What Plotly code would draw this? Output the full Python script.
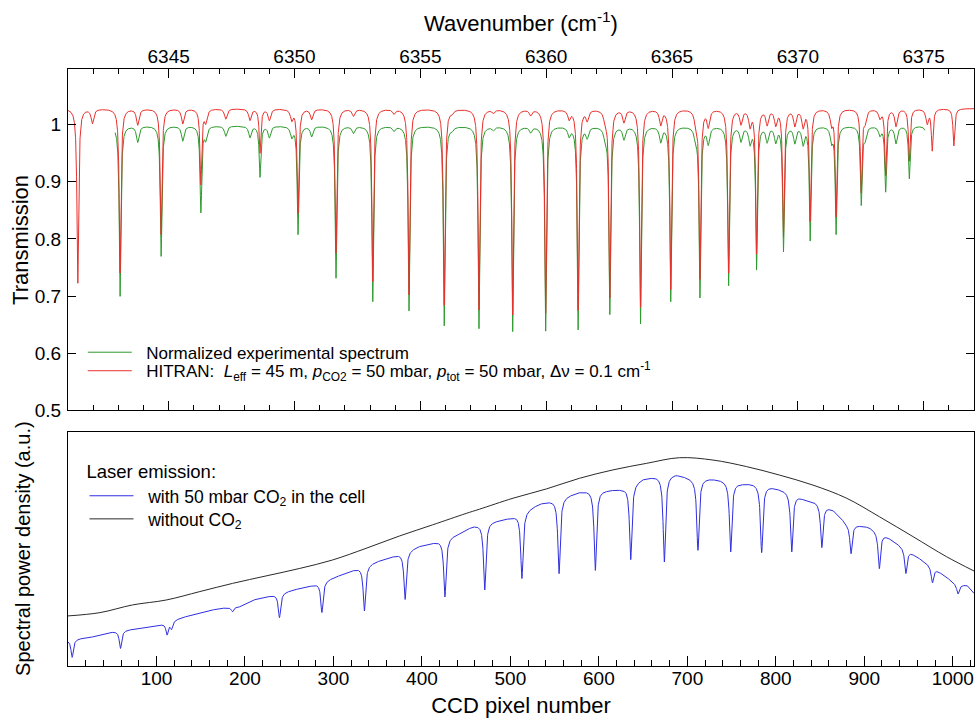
import numpy as np
import plotly.graph_objects as go

# ---------------- top panel: CO2 transmission ----------------
# strong lines: centre (cm-1), minimum of measured (green) and HITRAN (red) curves
strong_wn = [6341.39, 6343.07, 6344.70, 6346.28, 6348.63, 6350.14, 6351.65, 6353.11,
             6354.55, 6355.95, 6357.33, 6358.67, 6359.98, 6361.27, 6362.53, 6363.75,
             6364.95, 6366.11, 6367.25, 6368.36, 6369.43, 6370.49, 6371.52, 6372.52,
             6373.49, 6374.43, 6375.34, 6376.20]
green_min = [None, 0.700, 0.770, 0.848, 0.909, 0.809, 0.732, 0.691,
             0.675, 0.649, 0.644, 0.639, 0.640, 0.643, 0.671, 0.653,
             0.692, 0.701, 0.720, 0.749, 0.780, 0.799, 0.811, 0.862,
             0.884, 0.906, None, None]
red_min = [0.723, 0.741, 0.808, 0.897, 0.951, 0.846, 0.776, 0.726,
           0.703, 0.685, 0.677, 0.668, 0.671, 0.677, 0.700, 0.682,
           0.713, 0.733, 0.742, 0.777, 0.806, 0.833, 0.842, 0.884,
           0.913, 0.937, 0.956, 0.963]
# weak lines: centre (cm-1) and depth
weak_wn = [6341.97, 6343.77, 6345.56, 6346.47, 6347.27, 6348.23, 6349.00, 6349.89,
           6350.68, 6352.34, 6353.95, 6356.25, 6357.90, 6359.38, 6360.91, 6361.63,
           6362.35, 6363.09, 6364.55, 6365.94, 6366.44, 6367.74, 6368.10, 6368.78,
           6369.12, 6369.88, 6370.21, 6371.34, 6372.67, 6373.26, 6373.90, 6375.14]
weak_depth = [0.025, 0.028, 0.026, 0.022, 0.018, 0.020, 0.020, 0.018,
              0.018, 0.012, 0.008, 0.006, 0.006, 0.010, 0.016, 0.018,
              0.020, 0.022, 0.026, 0.020, 0.029, 0.025, 0.028, 0.026,
              0.026, 0.028, 0.030, 0.025, 0.020, 0.015, 0.030, 0.025]
green_level = 0.998
red_level = 1.028
green_span = [6342.87, 6375.05]

# ---------------- bottom panel: laser emission on the CCD ----------------
black_px = [0, 36, 73, 111, 149, 186, 224, 262, 299, 337, 375, 412, 450, 465, 503,
            541, 578, 616, 654, 691, 729, 767, 804, 842, 880, 917, 955, 993, 1024]
black_val = [0.214, 0.228, 0.261, 0.282, 0.318, 0.353, 0.385, 0.417, 0.453, 0.503,
             0.556, 0.603, 0.652, 0.670, 0.717, 0.757, 0.802, 0.838, 0.866, 0.890,
             0.880, 0.852, 0.816, 0.773, 0.717, 0.638, 0.553, 0.467, 0.406]
blue_px = [0, 28, 51, 81, 103, 126, 149, 171, 194, 209, 232, 254, 277, 303, 322, 348,
           371, 397, 416, 442, 457, 476, 488, 503, 533, 548, 578, 589, 608, 627, 650,
           665, 687, 706, 725, 736, 759, 774, 795, 812, 831, 846, 865, 880, 905, 926,
           943, 960, 990, 1005, 1016, 1024]
blue_val = [0.111, 0.125, 0.147, 0.161, 0.175, 0.204, 0.228, 0.246, 0.254, 0.282,
            0.303, 0.325, 0.346, 0.382, 0.410, 0.446, 0.474, 0.513, 0.531, 0.567,
            0.598, 0.617, 0.624, 0.638, 0.695, 0.709, 0.745, 0.752, 0.752, 0.759,
            0.802, 0.812, 0.821, 0.802, 0.802, 0.798, 0.781, 0.781, 0.766, 0.749,
            0.716, 0.702, 0.667, 0.610, 0.595, 0.553, 0.510, 0.467, 0.389, 0.346,
            0.346, 0.311]
blue_dip_px = [4.7, 59.3, 112, 117, 186, 239, 287, 335, 381, 426, 471, 513, 555, 596,
               636, 674, 712, 749, 784, 818, 852, 885, 917, 947, 977, 1006]
blue_dip_min = [0.037, 0.075, 0.135, 0.160, 0.232, 0.207, 0.229, 0.236, 0.285, 0.296,
                0.326, 0.375, 0.396, 0.410, 0.456, 0.446, 0.496, 0.489, 0.486, 0.489,
                0.507, 0.481, 0.417, 0.396, 0.356, 0.308]

GREEN = '#2e9a2e'
RED = '#e8302c'
BLUE = '#2f2fe0'
BLACK = '#2a2a2a'
FONT = 'Liberation Sans, Arial, sans-serif'
NB = '\u00a0'


def lorentz(x, c, hw):
    return 1.0 / (1.0 + ((x - c) / hw) ** 2)


# build transmission curves from the line list
wn = np.union1d(np.arange(6341.0, 6377.0001, 0.004), strong_wn)
red_T = np.full_like(wn, red_level)
green_T = np.full_like(wn, green_level)
for c, gm, rm in zip(strong_wn, green_min, red_min):
    red_T -= (red_level - rm) * lorentz(wn, c, 0.04)
    if gm is not None:
        green_T -= (green_level - gm) * lorentz(wn, c, 0.04)
for c, d in zip(weak_wn, weak_depth):
    red_T -= d * lorentz(wn, c, 0.06)
    green_T -= d * lorentz(wn, c, 0.06)
g_mask = (wn >= green_span[0]) & (wn <= green_span[1])

# laser emission with CO2 absorption dips
px = np.union1d(np.arange(0, 1024.01, 0.25), blue_dip_px)
blue_y = np.interp(px, blue_px, blue_val)
for c, m in zip(blue_dip_px, blue_dip_min):
    depth = np.interp(c, blue_px, blue_val) - m
    blue_y -= depth * lorentz(px, c, 1.6)

fig = go.Figure()
fig.add_trace(go.Scatter(x=wn[g_mask], y=green_T[g_mask], mode='lines',
                         line=dict(color=GREEN, width=1),
                         name=NB * 2 + 'Normalized experimental spectrum', legend='legend'))
fig.add_trace(go.Scatter(x=wn, y=red_T, mode='lines', line=dict(color=RED, width=1),
                         name=NB * 2 + 'HITRAN:' + NB * 2 + '<i>L</i><sub>eff</sub> = 45 m, '
                              '<i>p</i><sub>CO2</sub> = 50 mbar, <i>p</i><sub>tot</sub> = 50 mbar, '
                              '\u0394\u03bd = 0.1 cm<sup>-1</sup>',
                         legend='legend2'))
fig.add_trace(go.Scatter(x=px, y=blue_y, mode='lines', line=dict(color=BLUE, width=1),
                         xaxis='x2', yaxis='y2',
                         name=NB * 2 + 'with 50 mbar CO<sub>2</sub> in the cell', legend='legend3'))
fig.add_trace(go.Scatter(x=black_px, y=black_val, mode='lines',
                         line=dict(color=BLACK, width=1, shape='spline'),
                         xaxis='x2', yaxis='y2',
                         name=NB * 2 + 'without CO<sub>2</sub>', legend='legend4'))

axis_common = dict(showline=True, linecolor='black', linewidth=1.2, showgrid=False,
                   zeroline=False, tickcolor='black', tickwidth=1.2, automargin=False)
leg_common = dict(xanchor='left', yanchor='top', bgcolor='rgba(0,0,0,0)',
                  itemwidth=44, tracegroupgap=0)

fig.update_layout(
    width=977, height=718,
    margin=dict(l=68, r=3, t=69, b=52),
    paper_bgcolor='white', plot_bgcolor='white',
    font=dict(family=FONT, size=19, color='black'),
    xaxis=dict(domain=[0, 1], anchor='y', side='top', range=[6341, 6377],
               tick0=6345, dtick=5, ticks='inside', ticklen=9, mirror='ticks',
               ticklabelstandoff=-3,
               minor=dict(dtick=1, tick0=6341, ticks='inside', ticklen=5,
                          tickcolor='black', tickwidth=1.2),
               title=dict(text='Wavenumber (cm<sup>-1</sup>)', font=dict(size=22), standoff=8),
               **axis_common),
    yaxis=dict(domain=[0.428, 1], anchor='x', range=[0.5, 1.097],
               tick0=0.5, dtick=0.1, ticks='inside', ticklen=8, mirror='ticks',
               ticklabelstandoff=2, **axis_common),
    xaxis2=dict(domain=[0, 1], anchor='y2', range=[0, 1024],
                tickvals=[100, 200, 300, 400, 500, 600, 700, 800, 900, 1000],
                ticks='inside', ticklen=10, mirror=True, ticklabelstandoff=-5,
                minor=dict(dtick=20, tick0=0, ticks='inside', ticklen=6,
                           tickcolor='black', tickwidth=1.2),
                title=dict(text='CCD pixel number', font=dict(size=22), standoff=16),
                **axis_common),
    yaxis2=dict(domain=[0, 0.392], anchor='x2', range=[0, 1],
                showticklabels=False, ticks='', mirror=True, **axis_common),
    legend=dict(x=0.0163, y=0.555, font=dict(size=17), **leg_common),
    legend2=dict(x=0.0163, y=0.524, font=dict(size=17), **leg_common),
    legend3=dict(x=0.0182, y=0.3554, font=dict(size=17.5),
                 title=dict(text='Laser emission:', side='top', font=dict(size=18.5)),
                 **leg_common),
    legend4=dict(x=0.0182, y=0.2764, font=dict(size=17.5), **leg_common),
    showlegend=True,
    annotations=[
        dict(text='Transmission', xref='paper', yref='paper', x=-0.0519, y=0.7136,
             xanchor='center', yanchor='middle', textangle=-90, showarrow=False,
             font=dict(size=22)),
        dict(text='Spectral power density (a.u.)', xref='paper', yref='paper',
             x=-0.0497, y=0.1977, xanchor='center', yanchor='middle', textangle=-90,
             showarrow=False, font=dict(size=20)),
    ],
)

# drop the default page margin so the figure fills the window exactly
fig.write_html("out.html", config={'displayModeBar': False},
               post_script="document.body.style.margin='0';document.body.style.overflow='hidden';")
